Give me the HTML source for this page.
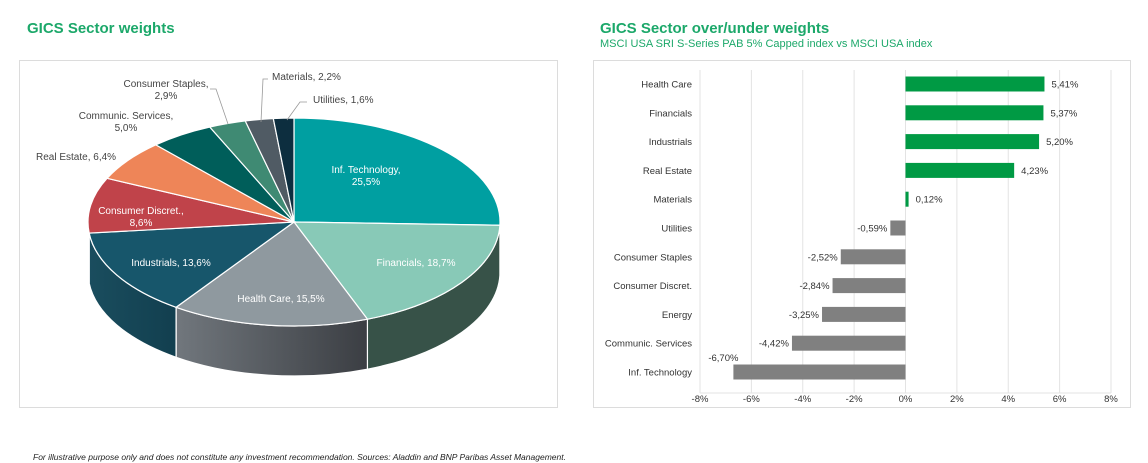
<!DOCTYPE html>
<html><head><meta charset="utf-8">
<style>
html,body{margin:0;padding:0;background:#fff;width:1148px;height:463px;overflow:hidden;font-family:"Liberation Sans",Arial,sans-serif;}
.t{position:absolute;color:#1ca86a;font-weight:bold;font-size:15px;}
.panel{position:absolute;border:1px solid #dcdcdc;background:#fff;}
svg text{font-family:"Liberation Sans",Arial,sans-serif;}
</style></head><body>
<div class="t" style="left:27px;top:20px;">GICS Sector weights</div>
<div class="t" style="left:600px;top:20px;">GICS Sector over/under weights</div>
<div style="position:absolute;left:600px;top:38px;color:#1ca86a;font-size:11px;">MSCI USA SRI S-Series PAB 5% Capped index vs MSCI USA index</div>
<div class="panel" style="left:19px;top:60px;width:537px;height:346px;"></div>
<div class="panel" style="left:593px;top:60px;width:536px;height:346px;"></div>
<svg id="pie" width="1148" height="463" style="position:absolute;left:0;top:0;">
<defs>
<linearGradient id="hcg" x1="0" x2="1" y1="0" y2="0"><stop offset="0" stop-color="#71777d"/><stop offset="1" stop-color="#3b3e43"/></linearGradient>
<linearGradient id="indg" x1="0" x2="1" y1="0" y2="0"><stop offset="0" stop-color="#1a4d5e"/><stop offset="1" stop-color="#123f4f"/></linearGradient>
</defs>
</svg>
<svg id="bar" width="1148" height="463" style="position:absolute;left:0;top:0;"></svg>
<div style="position:absolute;left:33px;top:452px;font-size:8.5px;font-style:italic;color:#222;">For illustrative purpose only and does not constitute any investment recommendation. Sources: Aladdin and BNP Paribas Asset Management.</div>
<script>
const pieSectors=["Inf. Technology","Financials","Health Care","Industrials","Consumer Discret.","Real Estate","Communic. Services","Consumer Staples","Materials","Utilities"];
const pieWeights=[25.5,18.7,15.5,13.6,8.6,6.4,5.0,2.9,2.2,1.6];
const pieColors=["#009fa1","#88c9b7","#8f999f","#17566b","#c0434a","#ee8558","#005e5a","#3f8a73","#505b64","#0d2e3f"];
const pieSideColors=["#006f70","#375248","url(#hcg)","url(#indg)","#8a2f35","#b5623f","#003f3c","#2c6352","#383f46","#081f2b"];
const barCategories=["Health Care","Financials","Industrials","Real Estate","Materials","Utilities","Consumer Staples","Consumer Discret.","Energy","Communic. Services","Inf. Technology"];
const barValues=[5.41,5.37,5.20,4.23,0.12,-0.59,-2.52,-2.84,-3.25,-4.42,-6.70];
const xTicks=[-8,-6,-4,-2,0,2,4,6,8];
const NS="http://www.w3.org/2000/svg";
function mk(p,t,a){const e=document.createElementNS(NS,t);for(const k in a)e.setAttribute(k,a[k]);p.appendChild(e);return e;}
// PIE
const pie=document.getElementById('pie');
const cx=294,cy=222,rx=206,ry=104,dep=50;
function P(t,dy){return [cx+rx*Math.sin(t),cy-ry*Math.cos(t)+(dy||0)];}
const total=pieWeights.reduce((a,b)=>a+b,0);
let acc=0;const ang=[];
pieWeights.forEach(w=>{const a0=acc/total*2*Math.PI;acc+=w;ang.push([a0,acc/total*2*Math.PI]);});
ang.forEach((a,i)=>{
  const s=Math.max(a[0],Math.PI/2),e=Math.min(a[1],3*Math.PI/2);
  if(e<=s)return;
  const p0=P(s),p1=P(e),p2=P(e,dep),p3=P(s,dep);
  const d=`M${p0} A${rx},${ry} 0 0 1 ${p1} L${p2} A${rx},${ry} 0 0 0 ${p3} Z`;
  const el=mk(pie,'path',{d:d,fill:pieSideColors[i],stroke:'#fff','stroke-width':1.2});
  
  
});
ang.forEach((a,i)=>{
  const p0=P(a[0]),p1=P(a[1]);const large=(a[1]-a[0])>Math.PI?1:0;
  const el=mk(pie,'path',{d:`M${cx},${cy} L${p0} A${rx},${ry} 0 ${large} 1 ${p1} Z`,fill:pieColors[i],stroke:'#fff','stroke-width':1.2});
  
  
});
function fmt(v,d){return v.toFixed(d).replace('.',',');}
const pieLabels=[
 [pieSectors[0]+",",fmt(pieWeights[0],1)+"%",366,173,'middle','#fff'],
 [pieSectors[1]+", "+fmt(pieWeights[1],1)+"%",null,416,266,'middle','#fff'],
 [pieSectors[2]+", "+fmt(pieWeights[2],1)+"%",null,281,302,'middle','#fff'],
 [pieSectors[3]+", "+fmt(pieWeights[3],1)+"%",null,171,266,'middle','#fff'],
 [pieSectors[4]+",",fmt(pieWeights[4],1)+"%",141,214,'middle','#fff'],
 [pieSectors[5]+", "+fmt(pieWeights[5],1)+"%",null,36,160,'start','#444'],
 [pieSectors[6]+",",fmt(pieWeights[6],1)+"%",126,119,'middle','#444'],
 [pieSectors[7]+",",fmt(pieWeights[7],1)+"%",166,87,'middle','#444'],
 [pieSectors[8]+", "+fmt(pieWeights[8],1)+"%",null,272,80,'start','#444'],
 [pieSectors[9]+", "+fmt(pieWeights[9],1)+"%",null,313,103,'start','#444']];
pieLabels.forEach((l,i)=>{
  const t=mk(pie,'text',{x:l[2],y:l[3],'text-anchor':l[4],fill:l[5],'font-size':10});
  
  
  t.textContent=l[0];
  if(l[1]){const t2=mk(pie,'text',{x:l[2],y:l[3]+12,'text-anchor':l[4],fill:l[5],'font-size':10});t2.textContent=l[1];}
});
[["M210,89 L216,89 L228,124"],["M268,79 L263,79 L261,122"],["M307,102 L300,102 L287,120"]].forEach((d,i)=>{
  const e=mk(pie,'path',{d:d[0],fill:'none',stroke:'#999','stroke-width':0.8});
  
  
});
// BAR
const bar=document.getElementById('bar');
const x0=700,x1=1111,yTop=70,yBot=393,rowTop=84,rowStep=28.8,bh=15;
function X(v){return x0+(v-xTicks[0])/(xTicks[xTicks.length-1]-xTicks[0])*(x1-x0);}
function Y(i){return rowTop+i*rowStep;}
xTicks.forEach(v=>{
  const l=mk(bar,'line',{x1:X(v),x2:X(v),y1:yTop,y2:yBot,stroke:'#e3e3e3','stroke-width':1});
  
  
  const t=mk(bar,'text',{x:X(v),y:yBot+9,'text-anchor':'middle','font-size':9.5,fill:'#333'});
  
  
  t.textContent=v+'%';
});
mk(bar,'line',{x1:x0,x2:x1,y1:yBot,y2:yBot,stroke:'#e3e3e3'});
barCategories.forEach((c,i)=>{
  const v=barValues[i],y=Y(i);
  const t=mk(bar,'text',{x:692,y:y+3.5,'text-anchor':'end','font-size':9.5,fill:'#333'});
  
  
  t.textContent=c;
  const r=mk(bar,'rect',{x:Math.min(X(0),X(v)),y:y-bh/2,width:Math.abs(X(v)-X(0)),height:bh,fill:v>=0?'#009a44':'#808080'});
  
  
  let lx,ly=y+3.5,an;
  if(v>=0){lx=X(v)+7;an='start';}else if(i===barCategories.length-1){lx=X(v)-10;ly=y-11;an='middle';}else{lx=X(v)-3;an='end';}
  const vt=mk(bar,'text',{x:lx,y:ly,'text-anchor':an,'font-size':9.5,fill:'#333'});
  
  
  vt.textContent=fmt(v,2)+'%';
});
</script>
</body></html>
